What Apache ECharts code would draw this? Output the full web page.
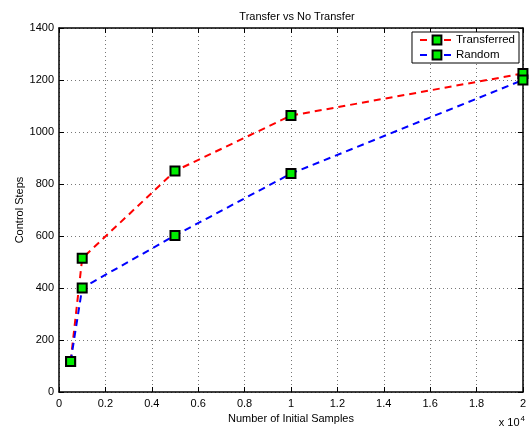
<!DOCTYPE html>
<html>
<head>
<meta charset="utf-8">
<script src="https://cdn.jsdelivr.net/npm/echarts@6/dist/echarts.min.js"></script>
<style>
html,body{margin:0;padding:0;background:#fff;}
#chart{width:529px;height:430px;}
</style>
</head>
<body>
<div id="chart"></div>
<script>
var samples = [500, 1000, 5000, 10000, 20000];
var transferred = [117, 514, 850, 1063, 1225];
var random = [117, 400, 602, 840, 1200];
var xTicks = ['0','0.2','0.4','0.6','0.8','1','1.2','1.4','1.6','1.8','2'];
var yTicks = ['0','200','400','600','800','1000','1200','1400'];
var xName = 'Number of Initial Samples';
var yName = 'Control Steps';

function pairs(xs, ys){ return xs.map(function(x,i){ return [x, ys[i]]; }); }

var font = 'Liberation Sans, Arial, Helvetica, sans-serif';
var gridLine = {show:true, lineStyle:{color:'#777', type:[1,3], width:1}};

var chart = echarts.init(document.getElementById('chart'), null, {renderer:'canvas'});
chart.setOption({
  animation:false,
  backgroundColor:'#fff',
  title:{text:'Transfer vs No Transfer', left:292, textAlign:'center', top:6,
    textStyle:{fontFamily:font, fontSize:11, fontWeight:'normal', color:'#000'}},
  grid:{left:59, right:4, top:28, bottom:38},
  legend:{
    right:10, top:32, orient:'vertical', itemGap:3, itemWidth:34, itemHeight:11,
    backgroundColor:'#fff', borderColor:'#000', borderWidth:1, padding:[2,4,2,7],
    textStyle:{fontFamily:font, fontSize:11.5, color:'#000', padding:[0,0,0,-3]},
    data:['Transferred','Random']
  },
  xAxis:[{
    type:'value', min:0, max:20000, interval:2000, position:'bottom',
    axisLine:{show:true, onZero:false, lineStyle:{color:'#000', width:1.5}},
    axisTick:{show:true, inside:true, length:5, lineStyle:{color:'#000'}},
    axisLabel:{fontFamily:font, fontSize:11, color:'#000', margin:6,
      formatter:function(v){ return xTicks[Math.round(v/2000)]; }},
    splitLine:gridLine,
    name:xName, nameLocation:'middle', nameGap:21,
    nameTextStyle:{fontFamily:font, fontSize:11, color:'#000'}
  },{
    type:'value', min:0, max:20000, interval:2000, position:'top',
    axisLine:{show:true, onZero:false, lineStyle:{color:'#000', width:1.5}},
    axisTick:{show:true, inside:true, length:5, lineStyle:{color:'#000'}},
    axisLabel:{show:false}, splitLine:{show:false}
  }],
  yAxis:[{
    type:'value', min:0, max:1400, interval:200, position:'left',
    axisLine:{show:true, onZero:false, lineStyle:{color:'#000', width:1.5}},
    axisTick:{show:true, inside:true, length:5, lineStyle:{color:'#000'}},
    axisLabel:{fontFamily:font, fontSize:11, color:'#000', margin:5,
      formatter:function(v){ return yTicks[Math.round(v/200)]; }},
    splitLine:gridLine
  },{
    type:'value', min:0, max:1400, interval:200, position:'right',
    axisLine:{show:true, onZero:false, lineStyle:{color:'#000', width:1.5}},
    axisTick:{show:true, inside:true, length:5, lineStyle:{color:'#000'}},
    axisLabel:{show:false}, splitLine:{show:false}
  }],
  graphic:[{
    type:'text', right:4, top:415,
    style:{text:'x 10{s|4}', rich:{s:{fontSize:8, verticalAlign:'top', padding:[0,0,8,1], fontFamily:font}},
      font:'11px Liberation Sans, Arial, sans-serif', fill:'#000'}
  },{
    type:'text', x:20, y:210, rotation:Math.PI/2,
    style:{text:yName, align:'center', verticalAlign:'middle',
      font:'11px Liberation Sans, Arial, sans-serif', fill:'#000'}
  }],
  series:[{
    name:'Transferred', type:'line', data:pairs(samples, transferred),
    lineStyle:{color:'#ff0000', width:2, type:[7,5]},
    symbol:'rect', symbolSize:9,
    itemStyle:{color:'#00ee00', borderColor:'#000', borderWidth:2},
    z:3
  },{
    name:'Random', type:'line', data:pairs(samples, random),
    lineStyle:{color:'#0000ff', width:2, type:[7,5]},
    symbol:'rect', symbolSize:9,
    itemStyle:{color:'#00ee00', borderColor:'#000', borderWidth:2},
    z:3
  }]
});
</script>
</body>
</html>
